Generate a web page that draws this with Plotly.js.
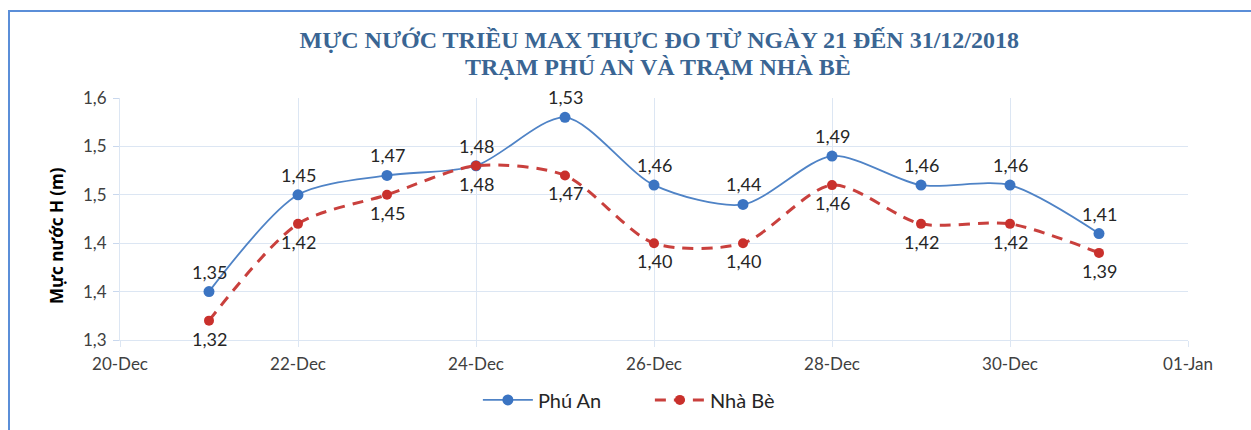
<!DOCTYPE html>
<html>
<head>
<meta charset="utf-8">
<script src="https://cdn.plot.ly/plotly-3.0.1.min.js"></script>
<style>
html,body{margin:0;padding:0;background:#fff;}
#wrap{position:relative;width:1251px;height:430px;}
#chart{position:absolute;left:0;top:0;width:1251px;height:430px;}
#frame{position:absolute;left:8px;top:10px;right:0;bottom:0;border-top:2px solid #5b8ed8;border-left:2px solid #5b8ed8;pointer-events:none;}
</style>
</head>
<body>
<div id="wrap"><div id="chart"></div><div id="frame"></div></div>
<script>
const dates = ['2018-12-21','2018-12-22','2018-12-23','2018-12-24','2018-12-25','2018-12-26','2018-12-27','2018-12-28','2018-12-29','2018-12-30','2018-12-31'];
const phuAn = [1.35,1.45,1.47,1.48,1.53,1.46,1.44,1.49,1.46,1.46,1.41];
const nhaBe = [1.32,1.42,1.45,1.48,1.47,1.40,1.40,1.46,1.42,1.42,1.39];
const yTickVals = [1.30,1.35,1.40,1.45,1.50,1.55];
const yTickText = ['1,3','1,4','1,4','1,5','1,5','1,6'];
const seriesNames = ['Phú An','Nhà Bè'];
const titleLines = ['MỰC NƯỚC TRIỀU MAX THỰC ĐO TỪ NGÀY 21 ĐẾN 31/12/2018', 'TRẠM PHÚ AN VÀ TRẠM NHÀ BÈ'];
const yTitle = 'Mực nước H (m)';

const labelFont = {family: 'Lato, sans-serif', size: 18, color: '#262626'};
const titleFont = {family: '"Liberation Serif", "Times New Roman", serif', size: 24, color: '#3a6593', weight: 'bold'};
const fmt = v => v.toFixed(2).replace('.', ',');

const traces = [
  {
    x: dates, y: phuAn, name: seriesNames[0], type: 'scatter', mode: 'lines+markers',
    line: {shape: 'spline', smoothing: 0.8, color: '#4f83c6', width: 1.8},
    marker: {size: 11, color: '#3b74c2'},
    cliponaxis: false
  },
  {
    x: dates, y: nhaBe, name: seriesNames[1], type: 'scatter', mode: 'lines+markers',
    line: {shape: 'spline', smoothing: 0.8, color: '#c9403d', width: 3, dash: '11px,8px'},
    marker: {size: 10, color: '#c9302c'},
    cliponaxis: false
  }
];

const annotations = [
  {
    text: titleLines[1], font: titleFont, showarrow: false,
    xref: 'paper', x: 0.504, xanchor: 'center',
    yref: 'paper', y: 1.13, yanchor: 'middle'
  },
  {
    text: yTitle, textangle: -90, showarrow: false,
    font: {family: '"Open Sans", sans-serif', size: 17, color: '#000', weight: 'bold'},
    xref: 'paper', x: -0.059, xanchor: 'center',
    yref: 'paper', y: 0.434, yanchor: 'middle'
  }
];
dates.forEach((d, i) => {
  annotations.push({x: d, y: phuAn[i], xref: 'x', yref: 'y', text: fmt(phuAn[i]), showarrow: false,
    font: labelFont, xanchor: 'center', yanchor: 'middle', yshift: 20});
  annotations.push({x: d, y: nhaBe[i], xref: 'x', yref: 'y', text: fmt(nhaBe[i]), showarrow: false,
    font: labelFont, xanchor: 'center', yanchor: 'middle', yshift: -18});
});

const layout = {
  width: 1251, height: 430,
  margin: {l: 120, r: 63, t: 98, b: 90, autoexpand: false},
  paper_bgcolor: 'rgba(0,0,0,0)', plot_bgcolor: '#fff',
  separators: ',.',
  showlegend: true,
  title: {
    text: titleLines[0],
    font: titleFont,
    x: 0.527, xanchor: 'center', yref: 'container', y: 0.907, yanchor: 'middle'
  },
  annotations: annotations,
  xaxis: {
    type: 'date',
    range: ['2018-12-20', '2019-01-01'],
    tick0: '2018-12-20', dtick: 172800000,
    tickformat: '%d-%b',
    showgrid: true, gridcolor: '#dce6f3', gridwidth: 1,
    showline: true, linecolor: '#dce6f3',
    ticks: 'outside', ticklen: 6, tickcolor: '#dce6f3',
    ticklabelstandoff: 3,
    tickfont: {family: 'Lato, sans-serif', size: 17, color: '#404040'},
    zeroline: false, fixedrange: true
  },
  yaxis: {
    range: [1.30, 1.55],
    tickvals: yTickVals, ticktext: yTickText,
    showgrid: true, gridcolor: '#dce6f3', gridwidth: 1,
    showline: true, linecolor: '#dce6f3',
    ticks: 'outside', ticklen: 6, tickcolor: '#c9d8ee',
    ticklabelstandoff: 3,
    tickfont: {family: 'Lato, sans-serif', size: 17, color: '#404040'},
    zeroline: false, fixedrange: true
  },
  legend: {
    orientation: 'h', xref: 'container', x: 0.382, xanchor: 'left', yref: 'container', y: 0.07, yanchor: 'middle',
    font: {family: 'Lato, sans-serif', size: 20, color: '#262626'},
    itemwidth: 50, entrywidth: 107, entrywidthmode: 'pixels'
  }
};

Plotly.newPlot('chart', traces, layout, {staticPlot: true, displayModeBar: false});
</script>
</body>
</html>
